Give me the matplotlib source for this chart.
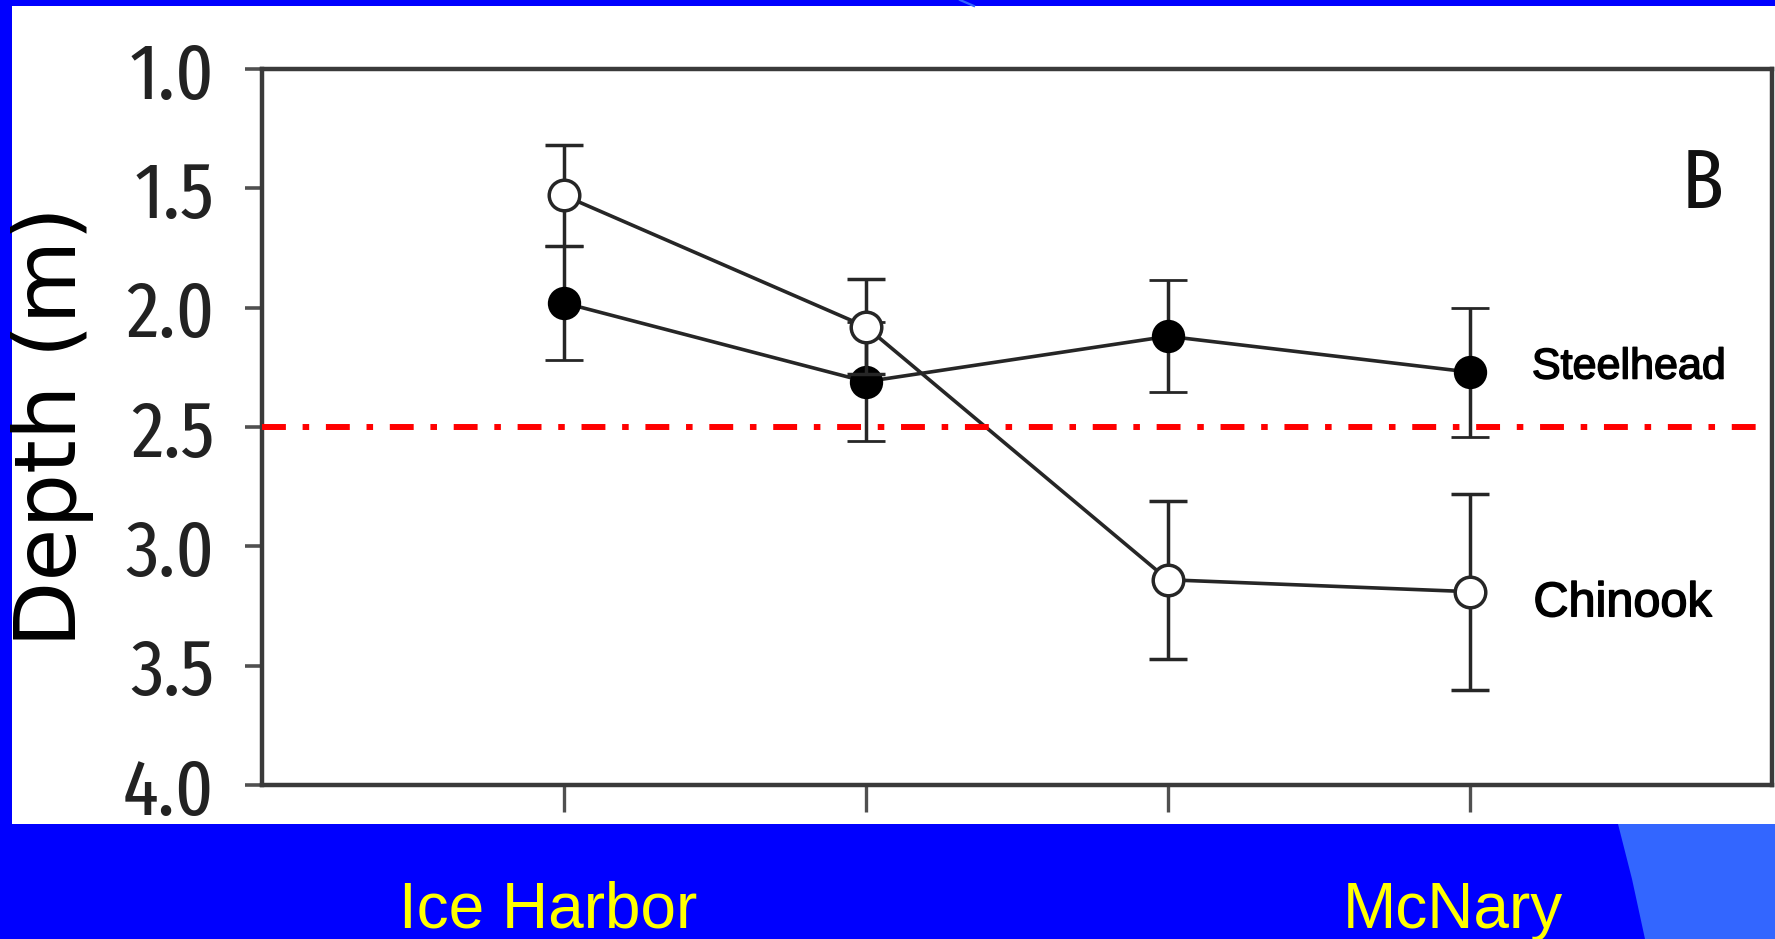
import os
import numpy as np
import matplotlib
matplotlib.use("Agg")
import matplotlib.pyplot as plt
import matplotlib.patheffects as pe
from matplotlib import font_manager
from matplotlib.font_manager import FontProperties
from matplotlib.patches import Rectangle, Polygon
from matplotlib.lines import Line2D

# sites along the river (only the end ones are named on the slide)
site_pos = [1, 2, 3, 4]
site_names = ["Ice Harbor", "", "", "McNary"]

# mean depth (m) and error bar half-width
steelhead_depth = [1.98, 2.31, 2.12, 2.27]
steelhead_err = [0.24, 0.25, 0.235, 0.27]
chinook_depth = [1.53, 2.08, 3.14, 3.19]
chinook_err = [0.21, 0.20, 0.33, 0.41]

ref_depth = 2.5
y_ticks = [1.0, 1.5, 2.0, 2.5, 3.0, 3.5, 4.0]

BLUE = "#0000ff"
LIGHT_BLUE = "#3366ff"
LINE = "#262626"

HEAVY = ("Bold", "Black", "Heavy", "Semi", "Demi", "Light", "Thin", "Medium",
         "Italic", "Oblique", "[")


def narrow_font(size):
    # the scanned figure is squeezed sideways, so use a narrow regular sans if there is one
    best = None
    for f in font_manager.fontManager.ttflist:
        base = os.path.basename(f.fname)
        label = f.name + " " + base
        if "Mono" in label or "CJK" in label or "Serif" in label:
            continue
        if any(h in base for h in HEAVY) or f.style != "normal":
            continue
        if "Narrow" not in label and "Condensed" not in label:
            continue
        r = 2
        if "ExtraCondensed" in label or "Extra Condensed" in label:
            r = 0
        elif "Narrow" in label:
            r = 1
        if best is None or r < best[0]:
            best = (r, f.fname)
    if best is None:
        return FontProperties(family="DejaVu Sans", stretch="condensed", size=size)
    return FontProperties(fname=best[1], size=size)


def main():
    fig = plt.figure(figsize=(17.75, 9.39), dpi=100, facecolor=BLUE)

    # white slide panel and the lighter blue swoosh in the corner
    fig.patches.append(Rectangle((12 / 1775, 115 / 939), 1, 1 - 6 / 939 - 115 / 939,
                                 transform=fig.transFigure, facecolor="white",
                                 edgecolor="none", zorder=-5))
    fig.patches.append(Polygon([(1618 / 1775, 115 / 939), (1, 115 / 939), (1, 0),
                                (1645 / 1775, 0), (1632 / 1775, 60 / 939)],
                               closed=True, transform=fig.transFigure,
                               facecolor=LIGHT_BLUE, edgecolor="none", zorder=-5))
    fig.lines.append(Line2D([960 / 1775, 974 / 1775], [1, 1 - 6 / 939],
                            transform=fig.transFigure, color=LIGHT_BLUE, lw=1.6, zorder=-4))

    ax = fig.add_axes([262 / 1775, 1 - 785 / 939, 1510 / 1775, 716 / 939])
    ax.set_facecolor("white")

    ax.errorbar(site_pos, steelhead_depth, yerr=steelhead_err, color=LINE, lw=2.6,
                marker="o", ms=22, mfc="black", mec="black", mew=2,
                elinewidth=2.5, capsize=13.5, capthick=3, zorder=3)
    ax.errorbar(site_pos, chinook_depth, yerr=chinook_err, color=LINE, lw=2.6,
                marker="o", ms=22, mfc="white", mec=LINE, mew=2.5,
                elinewidth=2.5, capsize=13.5, capthick=3, zorder=4)

    ax.axhline(ref_depth, color="red", lw=4.3, dashes=(4, 2.8, 1.1, 2.8), zorder=5)

    ax.set_xlim(0, 5)
    ax.set_ylim(4.0, 1.0)
    ax.set_yticks(y_ticks)
    ax.set_yticklabels(["%.1f" % v for v in y_ticks])
    ax.set_xticks(site_pos)
    ax.set_xticklabels([])

    for s in ax.spines.values():
        s.set_color("#3a3a3a")
        s.set_linewidth(3.2)
    ax.tick_params(axis="y", direction="out", length=12, width=2.6, color="#505050",
                   pad=22, labelcolor="#222222")
    ax.tick_params(axis="x", direction="out", length=19.5, width=2.4, color="#505050")
    tick_font = narrow_font(58)
    for lab in ax.get_yticklabels():
        lab.set_fontproperties(tick_font)

    ax.set_ylabel("Depth (m)", fontsize=62, family="DejaVu Sans", color="black")
    ax.yaxis.set_label_coords(-(262 - 94) / 1510, 0.5)

    ax.text(4.77, 1.49, "B", fontproperties=narrow_font(60),
            ha="center", va="center", color="#111111")
    bolder = [pe.withStroke(linewidth=1.1, foreground="black")]
    ax.text(4.205, 2.297, "Steelhead", fontsize=31, family="Liberation Sans",
            ha="left", va="baseline", color="black", path_effects=bolder)
    ax.text(4.21, 3.293, "Chinook", fontsize=35, family="Liberation Sans",
            ha="left", va="baseline", color="black", path_effects=bolder)

    # site names on the blue band under the chart
    fig.text(399 / 1775, 12 / 939, site_names[0], fontsize=46, family="Liberation Sans",
             color="#ffff00", ha="left", va="baseline")
    fig.text(1343 / 1775, 11 / 939, site_names[3], fontsize=46, family="Liberation Sans",
             color="#ffff00", ha="left", va="baseline")

    fig.savefig("out.png", dpi=100, facecolor=BLUE)


if __name__ == "__main__":
    main()
